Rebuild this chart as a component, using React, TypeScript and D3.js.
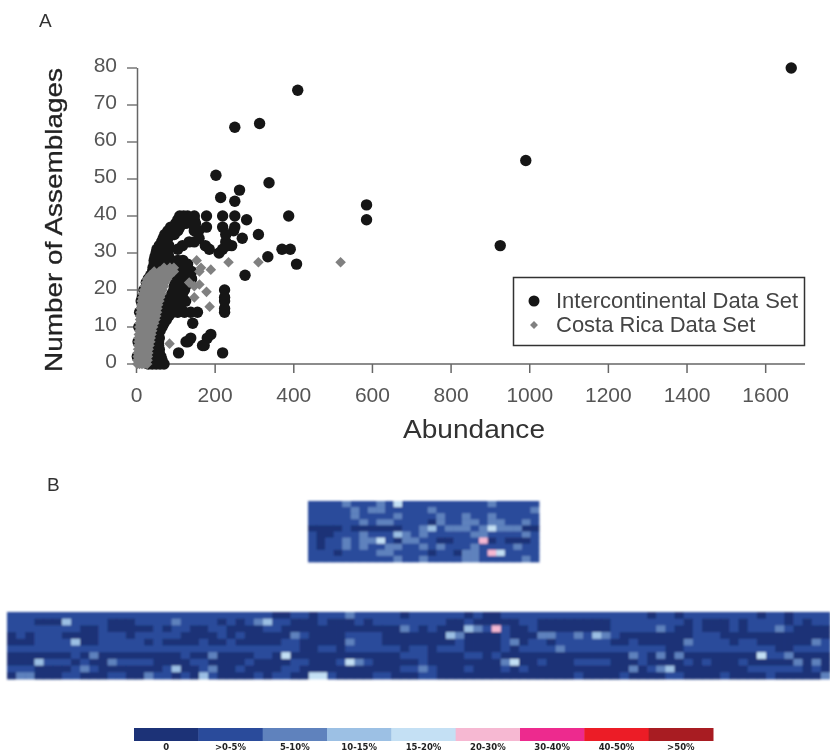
import React from "react";
import * as d3 from "d3";

const FONT = "'Liberation Sans', Arial, sans-serif";

const xTicks = [0, 200, 400, 600, 800, 1000, 1200, 1400, 1600];
const yTicks = [0, 10, 20, 30, 40, 50, 60, 70, 80];

const intercontinental: [number, number][] = [
  [1665,80],[990,55],[925,32],[585,43],[585,39],[410,74],[407,27],[391,31],[370,31],[387,40],[334,29],[337,49],[313,65],[310,35],[250,64],
  [202,51],[262,47],[214,45],[250,44],[178,40],[219,40],[250,40],[280,39],[178,37],[219,37],[250,37],[269,34],[227,35],[276,24],[247,36],[227,33],
  [110,40],[120,40],[130,40],[147,40],[105,39],[115,39],[128,39],[147,39],[100,38],[110,38],[125,38],[140,38],[150,38],
  [87,37],[97,37],[110,37],[148,37],[158,36],[147,36],[80,36],[92,36],[105,36],[72,35],[85,35],[96,35],
  [68,34],[80,34],[64,33],[75,33],[58,32],[70,32],[82,32],[52,31],[65,31],[78,31],
  [50,30],[60,30],[72,30],[80,30],[47,29],[58,29],[70,29],[82,29],[45,28],[58,28],[72,28],[88,28],[105,28],[118,28],
  [45,27],[60,27],[75,27],[90,27],[105,27],[120,27],[130,27],[42,26],[56,26],[100,26],[115,26],[130,26],[41,25],[110,25],[125,25],[140,25],
  [36,24],[105,24],[120,24],[135,24],[30,23],[100,23],[115,23],[125,23],[140,23],[25,22],[100,22],[115,22],[130,22],[19,20],[15,18],[12,17],[8,14],[6,10],[4,6],[2,2],
  [105,31],[117,32],[134,33],[147,33],[159,34],[175,32],[185,31],[210,30],[219,31],[231,32],[242,32],
  [130,23],[96,21],[110,21],[125,21],[117,19],[105,18],[113,16],[100,15],[92,14],[105,14],[122,14],[138,14],[155,14],[95,20],[110,20],[122,20],[125,17],
  [224,20],[224,18],[224,17],[224,15],[224,14],[143,11],[189,8],[180,7],[172,5],[168,5],[138,7],[126,6],[131,6],[107,3],[219,3],
  [30,0],[40,0],[50,0],[60,0],[70,0],[35,1],[45,1],[55,1],[65,1],[35,2],[45,2],[55,2],[62,2],[38,3],[48,3],[58,3],[40,4],[50,4],[58,4],
  [40,5],[48,5],[56,5],[42,6],[50,6],[56,6],[45,7],[52,7],[58,7],[48,8],[55,8],[48,9],[55,9],[60,9],[50,10],[58,10],[65,10],[55,11],[62,11],[70,11],
  [60,12],[68,12],[76,12],[62,13],[72,13],[82,13],[65,14],[78,14],[70,15],[85,15],[75,16],[90,16],[80,17],[95,17],[85,18],[100,18],[115,18],[90,19],[105,19],
];

const costaRica: [number, number][] = [
  [2,0],[8,0],[14,0],[20,0],[27,0],[2,1],[8,1],[14,1],[21,1],[28,1],[3,2],[9,2],[15,2],[22,2],[29,2],[3,3],[10,3],[16,3],[24,3],[30,3],
  [4,4],[10,4],[17,4],[24,4],[31,4],[4,5],[11,5],[18,5],[26,5],[33,5],[5,6],[12,6],[20,6],[28,6],[35,6],[5,7],[12,7],[20,7],[28,7],[36,7],
  [6,8],[13,8],[21,8],[29,8],[38,8],[7,9],[14,9],[22,9],[30,9],[40,9],[7,10],[15,10],[24,10],[33,10],[42,10],[8,11],[16,11],[26,11],[36,11],[45,11],
  [9,12],[18,12],[28,12],[38,12],[48,12],[9,13],[19,13],[30,13],[40,13],[50,13],[10,14],[20,14],[30,14],[40,14],[52,14],[11,15],[21,15],[31,15],[41,15],[53,15],
  [12,16],[23,16],[33,16],[44,16],[55,16],[13,17],[24,17],[35,17],[46,17],[58,17],[15,18],[26,18],[37,18],[49,18],[60,18],[16,19],[28,19],[40,19],[52,19],[64,19],
  [19,20],[30,20],[42,20],[54,20],[66,20],[21,21],[33,21],[45,21],[57,21],[70,21],[24,22],[36,22],[48,22],[60,22],[72,22],[27,23],[40,23],[52,23],[65,23],[78,23],
  [35,24],[48,24],[60,24],[72,24],[85,24],[45,25],[58,25],[70,25],[82,25],[95,25],[70,26],[85,26],[95,26],
  [153,28],[164,26],[189,25.5],[234,27.5],[310,27.5],[519,27.5],[178,19.5],[186,15.5],[147,18],[147,21],[160,25],[160,21.5],[134,22],[84,5.5],
];

const legendEntries = ["Intercontinental Data Set", "Costa Rica Data Set"];

const topRows = [
  "1111 2 111 2 1 4 1111111111 2 11111",
  "11111 2 1 22 11111 2 11111111111 2",
  "11111 2 1111 2 1111 2 11 2 11 2 11111",
  "111111 2 1 22 1111 0 2 11 22 1 22 11 2 1",
  "0000 1 000000 11 2 3 1 222 1 2 4 222 00",
  "1 00 111 2 111 3 2 1 2 11111 22 1111 2 1",
  "1 0 11 2 1 22 4 1 0 22 11 00 111 5 0 1 000 1",
  "1 0 11 2 1 2 11 22 11 2 1 2 111 2 1111 2 11",
  "111 0 1111 22 1111 0 11 0 22 1 5 4 1111",
  "1111111111 2 11 2 1111 22 11111 2 1",
];

const bottomRows = [
  "11111111111111111111111111111 00 11 0 111 2 11111 0 1 11111 0 1 00 1111111111111111 0 11 0 11111111 0 11 0 1111",
  "111 000 3 1111 000 1111 2 1111 0 1 0 1 2 3 11 000 1 000 1 0 11111 111 00 1 00000 11 00000000 11111111 0 1 000 1 0 1111 0 1 0 1 1",
  "1111111 1 00 1 00000 1 0 11 00 11 0000 11 0000000000000 2 1 0 1 000 3 2 1 5 1 00 1 00000000 11111 2 1 00 1 000 1 0 111 2 1 0000",
  "0 1 0 111 0000 111 0 11111 0000 1 0 1 0 0000 2 1 0000 1111 0000 000 3 2 0000 1 000 22 11 2 1 3 2 1 00000000 111 000000000000",
  "000 1111 3 00 11111 0 1 0000 1 00 1 0 0000 11 00000 2 111 0000 0000 1 0000 1 2 0 11 0 111111 00 1 00000 2 1111 0 11 000000 2 1",
  "11111111111111111111111111111111 00 11 0 111111 0 1 1 0 111 0000 1 0 1111 2 11111111111 00 1111111111 00 1111",
  "0000000 1 0 2 000000000 1 00 2 0000 11 0 4 000000000000 11 1 0000 11 0 1 00000000000000 2 1 0 2 0 2 00000000 4 11 2 0000",
  "000 3 111 0 1 00 2 1111 0000 11 0 000 1 0000 11 000 1 4 2 1 00000 1 00000000 2 4 00 1 000 1111 000 1 0000 1 0 1 000 1 00000 2 0 2 0",
  "111 0000 1 2 1 0000000 1 3 00 1 2 00 1 0000 11 00000000000 11 2 1 000 1 000 1 0 1 00000000000 2 0 1 2 3 00000000 111111 0 1 0",
  "0 22 000 11 000 11 00 2 11 0 1 0 3 1 0000 1 0 11 00 44 1 0000 11 000 11 000000000000000 1 0000 1 0000 11 0000 1 0000 1 00000 2",
];

const cellColors = ["#1f3377", "#2b4c9b", "#5f82bd", "#9cc0e4", "#c4e0f4", "#f6b8d2", "#ed2a8e", "#ec1f26", "#a81d22"];
const bandLabels = ["0", ">0-5%", "5-10%", "10-15%", "15-20%", "20-30%", "30-40%", "40-50%", ">50%"];

const x = d3.scaleLinear().domain([0, 1700]).range([136.5, 805]);
const y = d3.scaleLinear().domain([0, 80]).range([364, 68]);
const diamond = d3.symbol().type(d3.symbolSquare).size(56)()!;

function Heat({ rows, x0, x1, y0, y1, cols }: { rows: string[]; x0: number; x1: number; y0: number; y1: number; cols: number }) {
  const parsed = rows.map((r) => r.replace(/ /g, "").split("").map(Number));
  const cx = d3.scaleLinear().domain([0, cols]).range([x0, x1]);
  const cy = d3.scaleLinear().domain([0, rows.length]).range([y0, y1]);
  return (
    <g filter="url(#softHeat)">
      <rect x={x0} y={y0} width={x1 - x0} height={y1 - y0} fill={cellColors[1]} />
      {parsed.map((r, i) =>
        r.slice(0, cols).map((v, j) => (
          <rect key={`${i}-${j}`} x={cx(j)} y={cy(i)} width={cx(j + 1) - cx(j) + 0.4} height={cy(i + 1) - cy(i) + 0.4} fill={cellColors[v]} />
        ))
      )}
    </g>
  );
}

export default function App() {
  const band = d3.scaleBand<string>().domain(bandLabels).range([134, 713]);
  const lx = [534, 556];
  return (
    <svg width={830} height={754} style={{ position: "absolute", left: 0, top: 0, background: "#fff" }} fontFamily={FONT}>
      <defs>
        <filter id="soft" x="0" y="0" width="100%" height="100%">
          <feGaussianBlur stdDeviation="0.55" />
        </filter>
        <filter id="softHeat" x="-2%" y="-5%" width="104%" height="110%">
          <feGaussianBlur stdDeviation="0.8" />
        </filter>
      </defs>
      <g filter="url(#soft)">
        <rect width={830} height={754} fill="#fff" />
        <text x={39} y={27} fontSize={19} fill="#333">A</text>
        <text x={47} y={491} fontSize={19} fill="#333">B</text>

        <line x1={x(0)} x2={x(1700)} y1={y(0)} y2={y(0)} stroke="#666" strokeWidth={1.5} />
        <line x1={137.5} x2={137.5} y1={y(80)} y2={y(0)} stroke="#666" strokeWidth={1.5} />
        {xTicks.map((t) => (
          <g key={t}>
            <line x1={x(t)} x2={x(t)} y1={364} y2={373} stroke="#666" strokeWidth={1.5} />
            <text x={x(t)} y={402} fontSize={21} textAnchor="middle" fill="#555">{t}</text>
          </g>
        ))}
        {yTicks.map((t) => (
          <g key={t}>
            <line x1={127} x2={137} y1={y(t)} y2={y(t)} stroke="#777" strokeWidth={1.5} />
            <text x={117} y={y(t) + 3.5} fontSize={21} textAnchor="end" fill="#555">{t}</text>
          </g>
        ))}
        <text x={474} y={438} fontSize={25} textAnchor="middle" textLength={142} lengthAdjust="spacingAndGlyphs" fill="#333">Abundance</text>
        <text transform="translate(62,220) rotate(-90)" fontSize={24} textAnchor="middle" textLength={304} lengthAdjust="spacingAndGlyphs" fill="#222" stroke="#222" strokeWidth={0.3}>Number of Assemblages</text>

        {intercontinental.map(([a, n], i) => (
          <circle key={i} cx={x(a)} cy={y(n)} r={5.7} fill="#161616" />
        ))}
        {costaRica.map(([a, n], i) => (
          <path key={i} d={diamond} transform={`translate(${x(a)},${y(n)}) rotate(45)`} fill="#808080" />
        ))}

        <rect x={513.5} y={277.5} width={291} height={68} fill="#fff" stroke="#333" strokeWidth={1.5} />
        <circle cx={lx[0]} cy={301} r={5.5} fill="#161616" />
        <path d={diamond} transform={`translate(${lx[0]},325) rotate(45) scale(0.75)`} fill="#808080" />
        <text x={lx[1]} y={308} fontSize={22} fill="#444">{legendEntries[0]}</text>
        <text x={lx[1]} y={332} fontSize={22} fill="#444">{legendEntries[1]}</text>

        <Heat rows={topRows} x0={308} x1={539} y0={501} y1={562} cols={27} />
        <Heat rows={bottomRows} x0={7} x1={830} y0={612} y1={679} cols={90} />

        {bandLabels.map((l, i) => (
          <g key={l}>
            <rect x={band(l)!} y={728} width={band.bandwidth() + 0.5} height={13} fill={cellColors[i]} />
            <text x={band(l)! + band.bandwidth() / 2} y={750} fontSize={8.5} fontWeight="bold" fontFamily="'DejaVu Sans'" textAnchor="middle" fill="#222">{l}</text>
          </g>
        ))}
      </g>
    </svg>
  );
}
